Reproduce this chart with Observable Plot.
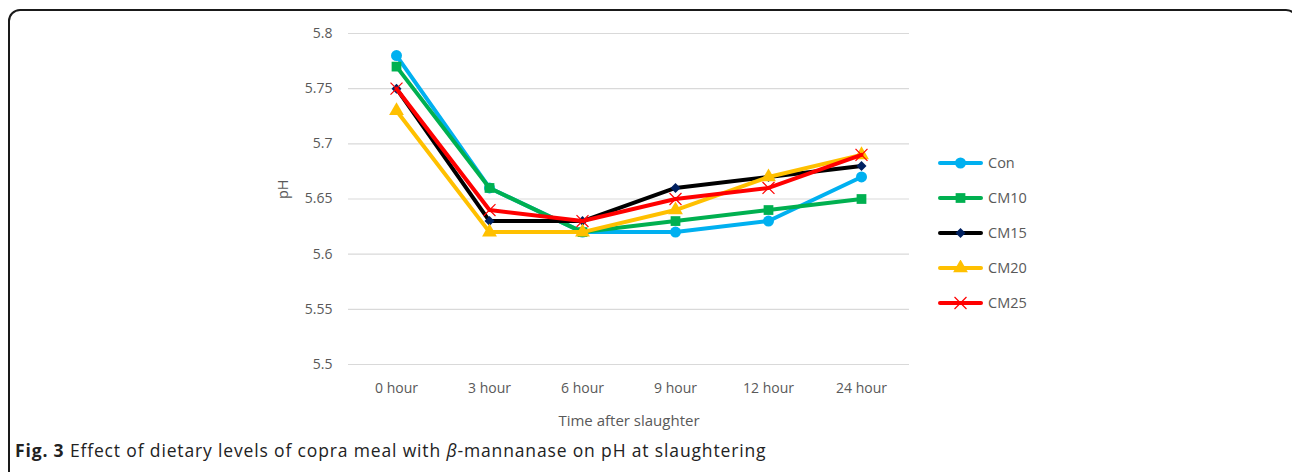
<!DOCTYPE html>
<html>
<head>
<meta charset="utf-8">
<script src="https://cdn.jsdelivr.net/npm/d3@7"></script>
<script src="https://cdn.jsdelivr.net/npm/@observablehq/plot@0.6"></script>
<style>
  html, body { margin: 0; padding: 0; background: #fff; }
  body { width: 1292px; height: 472px; position: relative; overflow: hidden; font-family: "Open Sans", sans-serif; }
  #frame { position: absolute; left: 8px; top: 9px; width: 1290px; height: 500px; border: 2px solid #1a1a1a; border-radius: 12px; box-sizing: border-box; }
  #chart { position: absolute; left: 0; top: 0; }
  #legend { position: absolute; left: 938px; top: 145px; }
  .item { display: flex; align-items: center; height: 35px; color: #595959; font-size: 14.5px; }
  .item svg { margin-right: 5px; }
  #caption { position: absolute; left: 15px; top: 438px; font-size: 17.5px; letter-spacing: 0.85px; color: #222; white-space: nowrap; }
</style>
</head>
<body>
<div id="frame"></div>
<div id="chart"></div>
<div id="legend"></div>
<div id="caption"><b>Fig. 3</b> Effect of dietary levels of copra meal with <i>β</i>-mannanase on pH at slaughtering</div>
<script>
const hours = ["0 hour", "3 hour", "6 hour", "9 hour", "12 hour", "24 hour"];
const seriesNames = ["Con", "CM10", "CM15", "CM20", "CM25"];
const Con  = [5.78, 5.66, 5.62, 5.62, 5.63, 5.67];
const CM10 = [5.77, 5.66, 5.62, 5.63, 5.64, 5.65];
const CM15 = [5.75, 5.63, 5.63, 5.66, 5.67, 5.68];
const CM20 = [5.73, 5.62, 5.62, 5.64, 5.67, 5.69];
const CM25 = [5.75, 5.64, 5.63, 5.65, 5.66, 5.69];
const yTicks = [5.5, 5.55, 5.6, 5.65, 5.7, 5.75, 5.8];

const seriesValues = [Con, CM10, CM15, CM20, CM25];
const lineColors = ["#00b0f0", "#00b050", "#000000", "#ffc000", "#ff0000"];
const markerColors = ["#00b0f0", "#00b050", "#002060", "#ffc000", "#ff0000"];
const symbols = ["circle", "square", "diamond2", "triangle", "times"];
const markerSizes = [5.5, 5.5, 4.5, 5.5, 5.5];

const data = [];
seriesNames.forEach((s, i) => hours.forEach((h, j) => data.push({series: s, hour: h, value: seriesValues[i][j], idx: i})));

const marks = [Plot.ruleY(yTicks, {stroke: "#d9d9d9", strokeWidth: 1.2})];
seriesNames.forEach((s, i) => {
  const d = data.filter(r => r.series === s);
  marks.push(Plot.line(d, {x: "hour", y: "value", stroke: lineColors[i], strokeWidth: 4}));
  const isTimes = symbols[i] === "times";
  marks.push(Plot.dot(d, {x: "hour", y: "value", symbol: () => symbols[i], r: markerSizes[i],
    fill: isTimes ? "none" : markerColors[i], stroke: markerColors[i], strokeWidth: isTimes ? 1.2 : 0}));
});
marks.push(Plot.text(["pH"], {frameAnchor: "left", dx: -65, rotate: -90, fontSize: 14.5, fill: "#595959"}));
marks.push(Plot.text(["Time after slaughter"], {frameAnchor: "bottom", dy: 61, fontSize: 15, fill: "#595959"}));

const chart = Plot.plot({
  width: 1292,
  height: 435,
  marginLeft: 348,
  marginRight: 383,
  marginTop: 33,
  marginBottom: 71,
  style: {fontFamily: "Open Sans, sans-serif", fontSize: "14px", color: "#595959", background: "transparent"},
  x: {type: "point", domain: hours, padding: 0.5, tickSize: 0, tickPadding: 19, label: null},
  y: {domain: [5.5, 5.8], ticks: yTicks, tickSize: 0, tickPadding: 16, label: null, tickFormat: d => String(+d.toFixed(2))},
  symbol: {type: "identity"},
  marks
});
document.getElementById("chart").appendChild(chart);

const legend = d3.select("#legend");
seriesNames.forEach((s, i) => {
  const item = legend.append("div").attr("class", "item");
  const svg = item.append("svg").attr("width", 45).attr("height", 16);
  svg.append("line").attr("x1", 2).attr("x2", 43).attr("y1", 8).attr("y2", 8)
    .attr("stroke", lineColors[i]).attr("stroke-width", 4).attr("stroke-linecap", "round");
  const sym = {circle: d3.symbolCircle, square: d3.symbolSquare, diamond2: d3.symbolDiamond2, triangle: d3.symbolTriangle, times: d3.symbolTimes}[symbols[i]];
  const isTimes = symbols[i] === "times";
  const r = markerSizes[i];
  svg.append("path").attr("d", d3.symbol(sym, Math.PI * r * r)())
    .attr("transform", "translate(22.5,8)")
    .attr("fill", isTimes ? "none" : markerColors[i])
    .attr("stroke", markerColors[i]).attr("stroke-width", isTimes ? 1.2 : 0);
  item.append("span").text(s);
});
</script>
</body>
</html>
